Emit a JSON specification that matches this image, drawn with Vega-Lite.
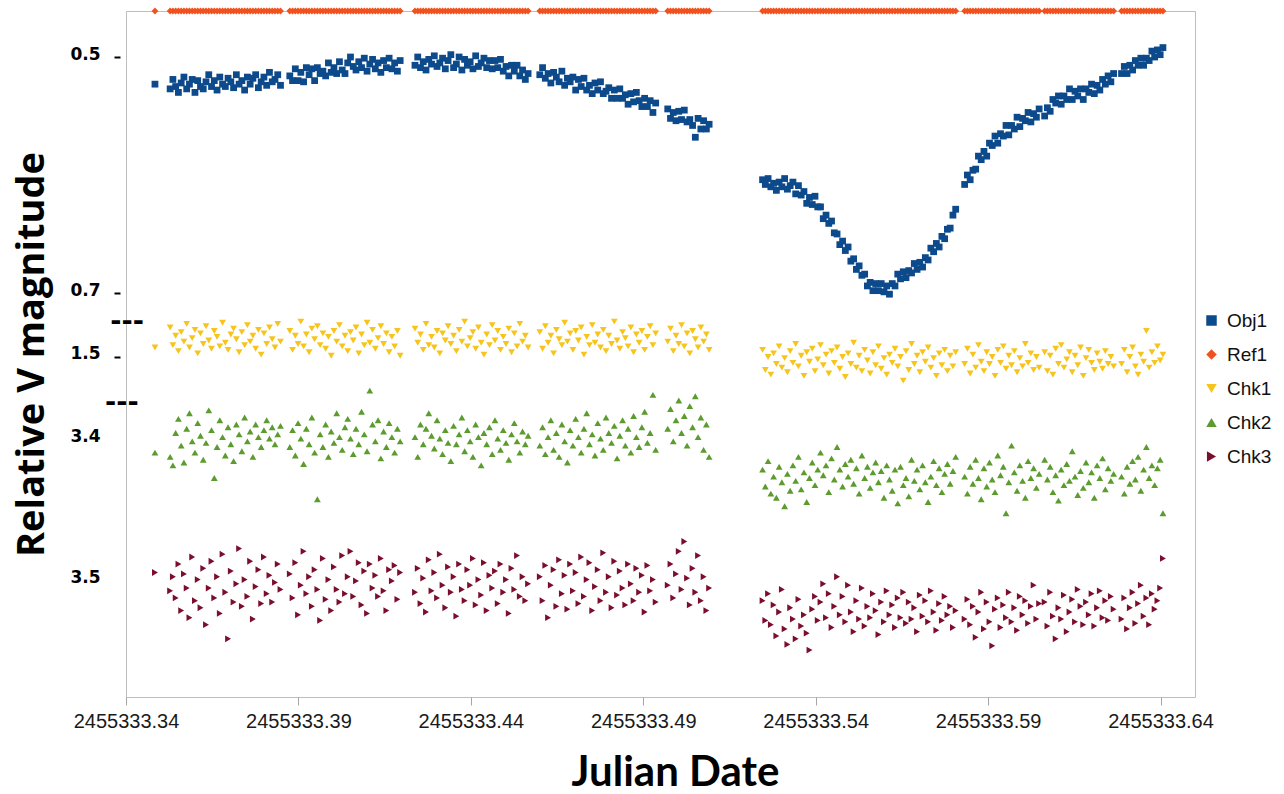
{
"$schema": "https://vega.github.io/schema/vega-lite/v6.json",
"width": 1069, "height": 686,
"autosize": "none",
"padding": {"left": 126, "top": 11, "right": 89, "bottom": 97},
"background": "white",
"config": {"view": {"stroke": "#bdbdbd", "strokeWidth": 1}},
"layer": [
{
"data": {"values": [
{"t":2455333.3484,"Obj1":0.523,"Ref1":0,"Chk1":1.492,"Chk2":3.409,"Chk3":3.494},
{"t":2455333.3528,"Obj1":0.527,"Ref1":0,"Chk1":1.475,"Chk2":3.412,"Chk3":3.507},
{"t":2455333.3536,"Obj1":0.519,"Ref1":0,"Chk1":1.490,"Chk2":3.418,"Chk3":3.497},
{"t":2455333.3544,"Obj1":0.525,"Ref1":0,"Chk1":1.482,"Chk2":3.395,"Chk3":3.512},
{"t":2455333.3552,"Obj1":0.530,"Ref1":0,"Chk1":1.495,"Chk2":3.385,"Chk3":3.488},
{"t":2455333.3560,"Obj1":0.522,"Ref1":0,"Chk1":1.479,"Chk2":3.404,"Chk3":3.521},
{"t":2455333.3568,"Obj1":0.517,"Ref1":0,"Chk1":1.487,"Chk2":3.416,"Chk3":3.495},
{"t":2455333.3576,"Obj1":0.527,"Ref1":0,"Chk1":1.472,"Chk2":3.392,"Chk3":3.505},
{"t":2455333.3584,"Obj1":0.523,"Ref1":0,"Chk1":1.492,"Chk2":3.381,"Chk3":3.526},
{"t":2455333.3592,"Obj1":0.519,"Ref1":0,"Chk1":1.484,"Chk2":3.401,"Chk3":3.483},
{"t":2455333.3600,"Obj1":0.530,"Ref1":0,"Chk1":1.477,"Chk2":3.409,"Chk3":3.514},
{"t":2455333.3608,"Obj1":0.520,"Ref1":0,"Chk1":1.497,"Chk2":3.388,"Chk3":3.499},
{"t":2455333.3616,"Obj1":0.525,"Ref1":0,"Chk1":1.480,"Chk2":3.397,"Chk3":3.519},
{"t":2455333.3624,"Obj1":0.527,"Ref1":0,"Chk1":1.489,"Chk2":3.414,"Chk3":3.491},
{"t":2455333.3632,"Obj1":0.521,"Ref1":0,"Chk1":1.474,"Chk2":3.402,"Chk3":3.531},
{"t":2455333.3640,"Obj1":0.515,"Ref1":0,"Chk1":1.486,"Chk2":3.379,"Chk3":3.505},
{"t":2455333.3648,"Obj1":0.525,"Ref1":0,"Chk1":1.493,"Chk2":3.393,"Chk3":3.486},
{"t":2455333.3656,"Obj1":0.520,"Ref1":0,"Chk1":1.478,"Chk2":3.427,"Chk3":3.512},
{"t":2455333.3664,"Obj1":0.528,"Ref1":0,"Chk1":1.483,"Chk2":3.405,"Chk3":3.497},
{"t":2455333.3672,"Obj1":0.517,"Ref1":0,"Chk1":1.491,"Chk2":3.386,"Chk3":3.523},
{"t":2455333.3680,"Obj1":0.523,"Ref1":0,"Chk1":1.471,"Chk2":3.398,"Chk3":3.481},
{"t":2455333.3688,"Obj1":0.525,"Ref1":0,"Chk1":1.488,"Chk2":3.411,"Chk3":3.508},
{"t":2455333.3696,"Obj1":0.518,"Ref1":0,"Chk1":1.494,"Chk2":3.391,"Chk3":3.541},
{"t":2455333.3704,"Obj1":0.521,"Ref1":0,"Chk1":1.481,"Chk2":3.403,"Chk3":3.493},
{"t":2455333.3712,"Obj1":0.526,"Ref1":0,"Chk1":1.476,"Chk2":3.415,"Chk3":3.515},
{"t":2455333.3720,"Obj1":0.515,"Ref1":0,"Chk1":1.485,"Chk2":3.389,"Chk3":3.502},
{"t":2455333.3728,"Obj1":0.523,"Ref1":0,"Chk1":1.496,"Chk2":3.396,"Chk3":3.477},
{"t":2455333.3736,"Obj1":0.520,"Ref1":0,"Chk1":1.479,"Chk2":3.408,"Chk3":3.518},
{"t":2455333.3744,"Obj1":0.528,"Ref1":0,"Chk1":1.490,"Chk2":3.384,"Chk3":3.499},
{"t":2455333.3752,"Obj1":0.517,"Ref1":0,"Chk1":1.473,"Chk2":3.401,"Chk3":3.511},
{"t":2455333.3760,"Obj1":0.523,"Ref1":0,"Chk1":1.487,"Chk2":3.394,"Chk3":3.486},
{"t":2455333.3768,"Obj1":0.518,"Ref1":0,"Chk1":1.482,"Chk2":3.412,"Chk3":3.527},
{"t":2455333.3776,"Obj1":0.515,"Ref1":0,"Chk1":1.493,"Chk2":3.389,"Chk3":3.504},
{"t":2455333.3784,"Obj1":0.526,"Ref1":0,"Chk1":1.477,"Chk2":3.398,"Chk3":3.492},
{"t":2455333.3792,"Obj1":0.521,"Ref1":0,"Chk1":1.498,"Chk2":3.405,"Chk3":3.516},
{"t":2455333.3800,"Obj1":0.517,"Ref1":0,"Chk1":1.480,"Chk2":3.393,"Chk3":3.483},
{"t":2455333.3808,"Obj1":0.524,"Ref1":0,"Chk1":1.489,"Chk2":3.386,"Chk3":3.509},
{"t":2455333.3816,"Obj1":0.513,"Ref1":0,"Chk1":1.475,"Chk2":3.399,"Chk3":3.496},
{"t":2455333.3824,"Obj1":0.521,"Ref1":0,"Chk1":1.485,"Chk2":3.391,"Chk3":3.515},
{"t":2455333.3832,"Obj1":0.519,"Ref1":0,"Chk1":1.492,"Chk2":3.403,"Chk3":3.501},
{"t":2455333.3840,"Obj1":0.515,"Ref1":0,"Chk1":1.472,"Chk2":3.396,"Chk3":3.488},
{"t":2455333.3848,"Obj1":0.524,"Ref1":0,"Chk1":1.487,"Chk2":3.390,"Chk3":3.506},
{"t":2455333.3875,"Obj1":0.516,"Ref1":0,"Chk1":1.478,"Chk2":3.405,"Chk3":3.495},
{"t":2455333.3883,"Obj1":0.520,"Ref1":0,"Chk1":1.494,"Chk2":3.393,"Chk3":3.512},
{"t":2455333.3891,"Obj1":0.510,"Ref1":0,"Chk1":1.482,"Chk2":3.411,"Chk3":3.487},
{"t":2455333.3899,"Obj1":0.520,"Ref1":0,"Chk1":1.489,"Chk2":3.388,"Chk3":3.524},
{"t":2455333.3907,"Obj1":0.513,"Ref1":0,"Chk1":1.470,"Chk2":3.399,"Chk3":3.503},
{"t":2455333.3915,"Obj1":0.521,"Ref1":0,"Chk1":1.491,"Chk2":3.417,"Chk3":3.479},
{"t":2455333.3923,"Obj1":0.509,"Ref1":0,"Chk1":1.481,"Chk2":3.392,"Chk3":3.509},
{"t":2455333.3931,"Obj1":0.515,"Ref1":0,"Chk1":1.496,"Chk2":3.403,"Chk3":3.497},
{"t":2455333.3939,"Obj1":0.510,"Ref1":0,"Chk1":1.476,"Chk2":3.384,"Chk3":3.518},
{"t":2455333.3947,"Obj1":0.520,"Ref1":0,"Chk1":1.485,"Chk2":3.409,"Chk3":3.492},
{"t":2455333.3955,"Obj1":0.509,"Ref1":0,"Chk1":1.474,"Chk2":3.442,"Chk3":3.506},
{"t":2455333.3963,"Obj1":0.514,"Ref1":0,"Chk1":1.490,"Chk2":3.396,"Chk3":3.528},
{"t":2455333.3971,"Obj1":0.512,"Ref1":0,"Chk1":1.480,"Chk2":3.405,"Chk3":3.484},
{"t":2455333.3979,"Obj1":0.516,"Ref1":0,"Chk1":1.493,"Chk2":3.389,"Chk3":3.513},
{"t":2455333.3987,"Obj1":0.505,"Ref1":0,"Chk1":1.483,"Chk2":3.412,"Chk3":3.499},
{"t":2455333.3995,"Obj1":0.513,"Ref1":0,"Chk1":1.499,"Chk2":3.394,"Chk3":3.521},
{"t":2455333.4003,"Obj1":0.509,"Ref1":0,"Chk1":1.478,"Chk2":3.402,"Chk3":3.490},
{"t":2455333.4011,"Obj1":0.514,"Ref1":0,"Chk1":1.487,"Chk2":3.381,"Chk3":3.506},
{"t":2455333.4019,"Obj1":0.504,"Ref1":0,"Chk1":1.473,"Chk2":3.398,"Chk3":3.515},
{"t":2455333.4027,"Obj1":0.511,"Ref1":0,"Chk1":1.491,"Chk2":3.407,"Chk3":3.482},
{"t":2455333.4035,"Obj1":0.514,"Ref1":0,"Chk1":1.482,"Chk2":3.391,"Chk3":3.509},
{"t":2455333.4043,"Obj1":0.505,"Ref1":0,"Chk1":1.495,"Chk2":3.385,"Chk3":3.497},
{"t":2455333.4051,"Obj1":0.500,"Ref1":0,"Chk1":1.479,"Chk2":3.399,"Chk3":3.479},
{"t":2455333.4059,"Obj1":0.508,"Ref1":0,"Chk1":1.486,"Chk2":3.410,"Chk3":3.511},
{"t":2455333.4067,"Obj1":0.511,"Ref1":0,"Chk1":1.475,"Chk2":3.392,"Chk3":3.500},
{"t":2455333.4075,"Obj1":0.504,"Ref1":0,"Chk1":1.497,"Chk2":3.403,"Chk3":3.487},
{"t":2455333.4083,"Obj1":0.509,"Ref1":0,"Chk1":1.481,"Chk2":3.380,"Chk3":3.517},
{"t":2455333.4091,"Obj1":0.501,"Ref1":0,"Chk1":1.490,"Chk2":3.396,"Chk3":3.493},
{"t":2455333.4099,"Obj1":0.512,"Ref1":0,"Chk1":1.471,"Chk2":3.408,"Chk3":3.523},
{"t":2455333.4107,"Obj1":0.506,"Ref1":0,"Chk1":1.488,"Chk2":3.365,"Chk3":3.488},
{"t":2455333.4115,"Obj1":0.502,"Ref1":0,"Chk1":1.477,"Chk2":3.389,"Chk3":3.505},
{"t":2455333.4123,"Obj1":0.510,"Ref1":0,"Chk1":1.493,"Chk2":3.401,"Chk3":3.496},
{"t":2455333.4131,"Obj1":0.505,"Ref1":0,"Chk1":1.484,"Chk2":3.386,"Chk3":3.511},
{"t":2455333.4139,"Obj1":0.513,"Ref1":0,"Chk1":1.474,"Chk2":3.413,"Chk3":3.484},
{"t":2455333.4147,"Obj1":0.503,"Ref1":0,"Chk1":1.489,"Chk2":3.394,"Chk3":3.507},
{"t":2455333.4155,"Obj1":0.509,"Ref1":0,"Chk1":1.480,"Chk2":3.405,"Chk3":3.521},
{"t":2455333.4163,"Obj1":0.501,"Ref1":0,"Chk1":1.496,"Chk2":3.388,"Chk3":3.492},
{"t":2455333.4171,"Obj1":0.510,"Ref1":0,"Chk1":1.483,"Chk2":3.398,"Chk3":3.500},
{"t":2455333.4179,"Obj1":0.505,"Ref1":0,"Chk1":1.491,"Chk2":3.409,"Chk3":3.489},
{"t":2455333.4187,"Obj1":0.512,"Ref1":0,"Chk1":1.478,"Chk2":3.392,"Chk3":3.513},
{"t":2455333.4195,"Obj1":0.503,"Ref1":0,"Chk1":1.499,"Chk2":3.401,"Chk3":3.494},
{"t":2455333.4238,"Obj1":0.507,"Ref1":0,"Chk1":1.476,"Chk2":3.398,"Chk3":3.508},
{"t":2455333.4246,"Obj1":0.500,"Ref1":0,"Chk1":1.488,"Chk2":3.412,"Chk3":3.491},
{"t":2455333.4254,"Obj1":0.509,"Ref1":0,"Chk1":1.481,"Chk2":3.389,"Chk3":3.516},
{"t":2455333.4262,"Obj1":0.504,"Ref1":0,"Chk1":1.494,"Chk2":3.403,"Chk3":3.498},
{"t":2455333.4270,"Obj1":0.511,"Ref1":0,"Chk1":1.472,"Chk2":3.392,"Chk3":3.522},
{"t":2455333.4278,"Obj1":0.502,"Ref1":0,"Chk1":1.490,"Chk2":3.381,"Chk3":3.485},
{"t":2455333.4286,"Obj1":0.506,"Ref1":0,"Chk1":1.483,"Chk2":3.397,"Chk3":3.507},
{"t":2455333.4294,"Obj1":0.499,"Ref1":0,"Chk1":1.492,"Chk2":3.406,"Chk3":3.494},
{"t":2455333.4302,"Obj1":0.508,"Ref1":0,"Chk1":1.478,"Chk2":3.386,"Chk3":3.512},
{"t":2455333.4310,"Obj1":0.505,"Ref1":0,"Chk1":1.497,"Chk2":3.399,"Chk3":3.481},
{"t":2455333.4318,"Obj1":0.501,"Ref1":0,"Chk1":1.480,"Chk2":3.410,"Chk3":3.503},
{"t":2455333.4326,"Obj1":0.510,"Ref1":0,"Chk1":1.486,"Chk2":3.393,"Chk3":3.519},
{"t":2455333.4334,"Obj1":0.503,"Ref1":0,"Chk1":1.474,"Chk2":3.402,"Chk3":3.490},
{"t":2455333.4342,"Obj1":0.498,"Ref1":0,"Chk1":1.489,"Chk2":3.415,"Chk3":3.508},
{"t":2455333.4350,"Obj1":0.509,"Ref1":0,"Chk1":1.482,"Chk2":3.390,"Chk3":3.497},
{"t":2455333.4358,"Obj1":0.506,"Ref1":0,"Chk1":1.495,"Chk2":3.403,"Chk3":3.525},
{"t":2455333.4366,"Obj1":0.500,"Ref1":0,"Chk1":1.477,"Chk2":3.396,"Chk3":3.488},
{"t":2455333.4374,"Obj1":0.511,"Ref1":0,"Chk1":1.487,"Chk2":3.384,"Chk3":3.506},
{"t":2455333.4382,"Obj1":0.502,"Ref1":0,"Chk1":1.470,"Chk2":3.408,"Chk3":3.514},
{"t":2455333.4390,"Obj1":0.507,"Ref1":0,"Chk1":1.491,"Chk2":3.393,"Chk3":3.492},
{"t":2455333.4398,"Obj1":0.504,"Ref1":0,"Chk1":1.484,"Chk2":3.401,"Chk3":3.503},
{"t":2455333.4406,"Obj1":0.510,"Ref1":0,"Chk1":1.479,"Chk2":3.412,"Chk3":3.484},
{"t":2455333.4414,"Obj1":0.499,"Ref1":0,"Chk1":1.493,"Chk2":3.389,"Chk3":3.517},
{"t":2455333.4422,"Obj1":0.508,"Ref1":0,"Chk1":1.475,"Chk2":3.398,"Chk3":3.499},
{"t":2455333.4430,"Obj1":0.505,"Ref1":0,"Chk1":1.488,"Chk2":3.418,"Chk3":3.510},
{"t":2455333.4438,"Obj1":0.501,"Ref1":0,"Chk1":1.498,"Chk2":3.395,"Chk3":3.487},
{"t":2455333.4446,"Obj1":0.509,"Ref1":0,"Chk1":1.481,"Chk2":3.403,"Chk3":3.521},
{"t":2455333.4454,"Obj1":0.503,"Ref1":0,"Chk1":1.490,"Chk2":3.391,"Chk3":3.496},
{"t":2455333.4462,"Obj1":0.510,"Ref1":0,"Chk1":1.473,"Chk2":3.410,"Chk3":3.505},
{"t":2455333.4470,"Obj1":0.503,"Ref1":0,"Chk1":1.486,"Chk2":3.386,"Chk3":3.493},
{"t":2455333.4478,"Obj1":0.509,"Ref1":0,"Chk1":1.478,"Chk2":3.399,"Chk3":3.516},
{"t":2455333.4486,"Obj1":0.502,"Ref1":0,"Chk1":1.494,"Chk2":3.407,"Chk3":3.488},
{"t":2455333.4494,"Obj1":0.512,"Ref1":0,"Chk1":1.483,"Chk2":3.393,"Chk3":3.508},
{"t":2455333.4502,"Obj1":0.508,"Ref1":0,"Chk1":1.489,"Chk2":3.402,"Chk3":3.499},
{"t":2455333.4510,"Obj1":0.516,"Ref1":0,"Chk1":1.476,"Chk2":3.414,"Chk3":3.523},
{"t":2455333.4518,"Obj1":0.507,"Ref1":0,"Chk1":1.496,"Chk2":3.396,"Chk3":3.491},
{"t":2455333.4526,"Obj1":0.512,"Ref1":0,"Chk1":1.480,"Chk2":3.388,"Chk3":3.506},
{"t":2455333.4534,"Obj1":0.507,"Ref1":0,"Chk1":1.491,"Chk2":3.401,"Chk3":3.482},
{"t":2455333.4542,"Obj1":0.516,"Ref1":0,"Chk1":1.472,"Chk2":3.409,"Chk3":3.511},
{"t":2455333.4550,"Obj1":0.511,"Ref1":0,"Chk1":1.487,"Chk2":3.394,"Chk3":3.497},
{"t":2455333.4558,"Obj1":0.519,"Ref1":0,"Chk1":1.482,"Chk2":3.403,"Chk3":3.514},
{"t":2455333.4566,"Obj1":0.514,"Ref1":0,"Chk1":1.492,"Chk2":3.397,"Chk3":3.502},
{"t":2455333.4600,"Obj1":0.515,"Ref1":0,"Chk1":1.479,"Chk2":3.404,"Chk3":3.497},
{"t":2455333.4608,"Obj1":0.509,"Ref1":0,"Chk1":1.493,"Chk2":3.391,"Chk3":3.514},
{"t":2455333.4616,"Obj1":0.518,"Ref1":0,"Chk1":1.474,"Chk2":3.410,"Chk3":3.489},
{"t":2455333.4624,"Obj1":0.514,"Ref1":0,"Chk1":1.488,"Chk2":3.398,"Chk3":3.526},
{"t":2455333.4632,"Obj1":0.522,"Ref1":0,"Chk1":1.482,"Chk2":3.386,"Chk3":3.503},
{"t":2455333.4640,"Obj1":0.513,"Ref1":0,"Chk1":1.497,"Chk2":3.407,"Chk3":3.492},
{"t":2455333.4648,"Obj1":0.517,"Ref1":0,"Chk1":1.477,"Chk2":3.395,"Chk3":3.518},
{"t":2455333.4656,"Obj1":0.521,"Ref1":0,"Chk1":1.485,"Chk2":3.412,"Chk3":3.485},
{"t":2455333.4664,"Obj1":0.512,"Ref1":0,"Chk1":1.490,"Chk2":3.389,"Chk3":3.509},
{"t":2455333.4672,"Obj1":0.524,"Ref1":0,"Chk1":1.471,"Chk2":3.401,"Chk3":3.496},
{"t":2455333.4680,"Obj1":0.518,"Ref1":0,"Chk1":1.487,"Chk2":3.416,"Chk3":3.520},
{"t":2455333.4688,"Obj1":0.521,"Ref1":0,"Chk1":1.480,"Chk2":3.393,"Chk3":3.488},
{"t":2455333.4696,"Obj1":0.517,"Ref1":0,"Chk1":1.494,"Chk2":3.404,"Chk3":3.507},
{"t":2455333.4704,"Obj1":0.528,"Ref1":0,"Chk1":1.478,"Chk2":3.385,"Chk3":3.494},
{"t":2455333.4712,"Obj1":0.519,"Ref1":0,"Chk1":1.486,"Chk2":3.398,"Chk3":3.516},
{"t":2455333.4720,"Obj1":0.525,"Ref1":0,"Chk1":1.475,"Chk2":3.409,"Chk3":3.483},
{"t":2455333.4728,"Obj1":0.518,"Ref1":0,"Chk1":1.498,"Chk2":3.392,"Chk3":3.511},
{"t":2455333.4736,"Obj1":0.528,"Ref1":0,"Chk1":1.483,"Chk2":3.381,"Chk3":3.499},
{"t":2455333.4744,"Obj1":0.524,"Ref1":0,"Chk1":1.490,"Chk2":3.403,"Chk3":3.487},
{"t":2455333.4752,"Obj1":0.531,"Ref1":0,"Chk1":1.473,"Chk2":3.396,"Chk3":3.521},
{"t":2455333.4760,"Obj1":0.522,"Ref1":0,"Chk1":1.488,"Chk2":3.411,"Chk3":3.504},
{"t":2455333.4768,"Obj1":0.528,"Ref1":0,"Chk1":1.481,"Chk2":3.388,"Chk3":3.492},
{"t":2455333.4776,"Obj1":0.521,"Ref1":0,"Chk1":1.492,"Chk2":3.399,"Chk3":3.514},
{"t":2455333.4784,"Obj1":0.531,"Ref1":0,"Chk1":1.477,"Chk2":3.407,"Chk3":3.480},
{"t":2455333.4792,"Obj1":0.529,"Ref1":0,"Chk1":1.495,"Chk2":3.384,"Chk3":3.508},
{"t":2455333.4800,"Obj1":0.526,"Ref1":0,"Chk1":1.482,"Chk2":3.395,"Chk3":3.497},
{"t":2455333.4808,"Obj1":0.535,"Ref1":0,"Chk1":1.489,"Chk2":3.402,"Chk3":3.519},
{"t":2455333.4816,"Obj1":0.528,"Ref1":0,"Chk1":1.470,"Chk2":3.390,"Chk3":3.486},
{"t":2455333.4824,"Obj1":0.535,"Ref1":0,"Chk1":1.486,"Chk2":3.413,"Chk3":3.510},
{"t":2455333.4832,"Obj1":0.527,"Ref1":0,"Chk1":1.493,"Chk2":3.397,"Chk3":3.493},
{"t":2455333.4840,"Obj1":0.535,"Ref1":0,"Chk1":1.479,"Chk2":3.386,"Chk3":3.505},
{"t":2455333.4848,"Obj1":0.532,"Ref1":0,"Chk1":1.484,"Chk2":3.404,"Chk3":3.517},
{"t":2455333.4856,"Obj1":0.540,"Ref1":0,"Chk1":1.491,"Chk2":3.392,"Chk3":3.488},
{"t":2455333.4864,"Obj1":0.531,"Ref1":0,"Chk1":1.475,"Chk2":3.409,"Chk3":3.502},
{"t":2455333.4872,"Obj1":0.538,"Ref1":0,"Chk1":1.496,"Chk2":3.383,"Chk3":3.514},
{"t":2455333.4880,"Obj1":0.530,"Ref1":0,"Chk1":1.481,"Chk2":3.398,"Chk3":3.491},
{"t":2455333.4888,"Obj1":0.537,"Ref1":0,"Chk1":1.488,"Chk2":3.405,"Chk3":3.508},
{"t":2455333.4896,"Obj1":0.542,"Ref1":0,"Chk1":1.478,"Chk2":3.391,"Chk3":3.496},
{"t":2455333.4904,"Obj1":0.535,"Ref1":0,"Chk1":1.494,"Chk2":3.380,"Chk3":3.522},
{"t":2455333.4912,"Obj1":0.542,"Ref1":0,"Chk1":1.483,"Chk2":3.402,"Chk3":3.489},
{"t":2455333.4920,"Obj1":0.537,"Ref1":0,"Chk1":1.474,"Chk2":3.395,"Chk3":3.507},
{"t":2455333.4928,"Obj1":0.547,"Ref1":0,"Chk1":1.490,"Chk2":3.368,"Chk3":3.499},
{"t":2455333.4936,"Obj1":0.539,"Ref1":0,"Chk1":1.480,"Chk2":3.407,"Chk3":3.515},
{"t":2455333.4971,"Obj1":0.544,"Ref1":0,"Chk1":1.487,"Chk2":3.392,"Chk3":3.503},
{"t":2455333.4979,"Obj1":0.552,"Ref1":0,"Chk1":1.476,"Chk2":3.378,"Chk3":3.488},
{"t":2455333.4987,"Obj1":0.547,"Ref1":0,"Chk1":1.495,"Chk2":3.401,"Chk3":3.512},
{"t":2455333.4995,"Obj1":0.554,"Ref1":0,"Chk1":1.482,"Chk2":3.386,"Chk3":3.495},
{"t":2455333.5003,"Obj1":0.546,"Ref1":0,"Chk1":1.489,"Chk2":3.372,"Chk3":3.479},
{"t":2455333.5011,"Obj1":0.553,"Ref1":0,"Chk1":1.473,"Chk2":3.395,"Chk3":3.506},
{"t":2455333.5019,"Obj1":0.545,"Ref1":0,"Chk1":1.491,"Chk2":3.383,"Chk3":3.472},
{"t":2455333.5027,"Obj1":0.555,"Ref1":0,"Chk1":1.480,"Chk2":3.404,"Chk3":3.498},
{"t":2455333.5035,"Obj1":0.553,"Ref1":0,"Chk1":1.497,"Chk2":3.376,"Chk3":3.517},
{"t":2455333.5043,"Obj1":0.558,"Ref1":0,"Chk1":1.478,"Chk2":3.391,"Chk3":3.491},
{"t":2455333.5051,"Obj1":0.568,"Ref1":0,"Chk1":1.485,"Chk2":3.369,"Chk3":3.508},
{"t":2455333.5059,"Obj1":0.552,"Ref1":0,"Chk1":1.492,"Chk2":3.398,"Chk3":3.482},
{"t":2455333.5067,"Obj1":0.561,"Ref1":0,"Chk1":1.475,"Chk2":3.384,"Chk3":3.514},
{"t":2455333.5075,"Obj1":0.554,"Ref1":0,"Chk1":1.487,"Chk2":3.407,"Chk3":3.497},
{"t":2455333.5083,"Obj1":0.561,"Ref1":0,"Chk1":1.481,"Chk2":3.389,"Chk3":3.521},
{"t":2455333.5091,"Obj1":0.557,"Ref1":0,"Chk1":1.494,"Chk2":3.412,"Chk3":3.505},
{"t":2455333.5246,"Obj1":0.604,"Ref1":0,"Chk1":1.494,"Chk2":3.421,"Chk3":3.514},
{"t":2455333.5254,"Obj1":0.608,"Ref1":0,"Chk1":1.511,"Chk2":3.433,"Chk3":3.528},
{"t":2455333.5262,"Obj1":0.603,"Ref1":0,"Chk1":1.500,"Chk2":3.415,"Chk3":3.509},
{"t":2455333.5270,"Obj1":0.610,"Ref1":0,"Chk1":1.515,"Chk2":3.438,"Chk3":3.531},
{"t":2455333.5278,"Obj1":0.607,"Ref1":0,"Chk1":1.497,"Chk2":3.426,"Chk3":3.517},
{"t":2455333.5286,"Obj1":0.613,"Ref1":0,"Chk1":1.506,"Chk2":3.441,"Chk3":3.539},
{"t":2455333.5294,"Obj1":0.606,"Ref1":0,"Chk1":1.491,"Chk2":3.419,"Chk3":3.522},
{"t":2455333.5302,"Obj1":0.610,"Ref1":0,"Chk1":1.509,"Chk2":3.430,"Chk3":3.506},
{"t":2455333.5310,"Obj1":0.603,"Ref1":0,"Chk1":1.501,"Chk2":3.447,"Chk3":3.534},
{"t":2455333.5318,"Obj1":0.612,"Ref1":0,"Chk1":1.513,"Chk2":3.424,"Chk3":3.545},
{"t":2455333.5326,"Obj1":0.609,"Ref1":0,"Chk1":1.495,"Chk2":3.436,"Chk3":3.519},
{"t":2455333.5334,"Obj1":0.606,"Ref1":0,"Chk1":1.505,"Chk2":3.418,"Chk3":3.527},
{"t":2455333.5342,"Obj1":0.616,"Ref1":0,"Chk1":1.489,"Chk2":3.429,"Chk3":3.541},
{"t":2455333.5350,"Obj1":0.609,"Ref1":0,"Chk1":1.508,"Chk2":3.412,"Chk3":3.513},
{"t":2455333.5358,"Obj1":0.617,"Ref1":0,"Chk1":1.499,"Chk2":3.435,"Chk3":3.532},
{"t":2455333.5366,"Obj1":0.614,"Ref1":0,"Chk1":1.516,"Chk2":3.423,"Chk3":3.524},
{"t":2455333.5374,"Obj1":0.624,"Ref1":0,"Chk1":1.496,"Chk2":3.444,"Chk3":3.537},
{"t":2455333.5382,"Obj1":0.619,"Ref1":0,"Chk1":1.504,"Chk2":3.427,"Chk3":3.549},
{"t":2455333.5390,"Obj1":0.625,"Ref1":0,"Chk1":1.493,"Chk2":3.416,"Chk3":3.520},
{"t":2455333.5398,"Obj1":0.618,"Ref1":0,"Chk1":1.512,"Chk2":3.432,"Chk3":3.511},
{"t":2455333.5406,"Obj1":0.627,"Ref1":0,"Chk1":1.502,"Chk2":3.421,"Chk3":3.528},
{"t":2455333.5414,"Obj1":0.627,"Ref1":0,"Chk1":1.490,"Chk2":3.409,"Chk3":3.515},
{"t":2455333.5422,"Obj1":0.637,"Ref1":0,"Chk1":1.507,"Chk2":3.425,"Chk3":3.502},
{"t":2455333.5430,"Obj1":0.634,"Ref1":0,"Chk1":1.498,"Chk2":3.418,"Chk3":3.526},
{"t":2455333.5438,"Obj1":0.641,"Ref1":0,"Chk1":1.514,"Chk2":3.437,"Chk3":3.509},
{"t":2455333.5446,"Obj1":0.639,"Ref1":0,"Chk1":1.495,"Chk2":3.413,"Chk3":3.533},
{"t":2455333.5454,"Obj1":0.649,"Ref1":0,"Chk1":1.505,"Chk2":3.428,"Chk3":3.518},
{"t":2455333.5462,"Obj1":0.650,"Ref1":0,"Chk1":1.492,"Chk2":3.405,"Chk3":3.497},
{"t":2455333.5470,"Obj1":0.659,"Ref1":0,"Chk1":1.510,"Chk2":3.421,"Chk3":3.524},
{"t":2455333.5478,"Obj1":0.656,"Ref1":0,"Chk1":1.500,"Chk2":3.433,"Chk3":3.511},
{"t":2455333.5486,"Obj1":0.664,"Ref1":0,"Chk1":1.517,"Chk2":3.417,"Chk3":3.529},
{"t":2455333.5494,"Obj1":0.661,"Ref1":0,"Chk1":1.497,"Chk2":3.426,"Chk3":3.503},
{"t":2455333.5502,"Obj1":0.673,"Ref1":0,"Chk1":1.506,"Chk2":3.414,"Chk3":3.522},
{"t":2455333.5510,"Obj1":0.671,"Ref1":0,"Chk1":1.488,"Chk2":3.431,"Chk3":3.536},
{"t":2455333.5518,"Obj1":0.680,"Ref1":0,"Chk1":1.509,"Chk2":3.420,"Chk3":3.514},
{"t":2455333.5526,"Obj1":0.677,"Ref1":0,"Chk1":1.499,"Chk2":3.438,"Chk3":3.527},
{"t":2455333.5534,"Obj1":0.685,"Ref1":0,"Chk1":1.512,"Chk2":3.411,"Chk3":3.505},
{"t":2455333.5542,"Obj1":0.684,"Ref1":0,"Chk1":1.494,"Chk2":3.427,"Chk3":3.532},
{"t":2455333.5550,"Obj1":0.694,"Ref1":0,"Chk1":1.503,"Chk2":3.419,"Chk3":3.518},
{"t":2455333.5558,"Obj1":0.691,"Ref1":0,"Chk1":1.514,"Chk2":3.434,"Chk3":3.526},
{"t":2455333.5566,"Obj1":0.698,"Ref1":0,"Chk1":1.496,"Chk2":3.423,"Chk3":3.509},
{"t":2455333.5574,"Obj1":0.692,"Ref1":0,"Chk1":1.507,"Chk2":3.416,"Chk3":3.521},
{"t":2455333.5582,"Obj1":0.698,"Ref1":0,"Chk1":1.491,"Chk2":3.430,"Chk3":3.538},
{"t":2455333.5590,"Obj1":0.692,"Ref1":0,"Chk1":1.510,"Chk2":3.422,"Chk3":3.515},
{"t":2455333.5598,"Obj1":0.699,"Ref1":0,"Chk1":1.501,"Chk2":3.441,"Chk3":3.529},
{"t":2455333.5606,"Obj1":0.694,"Ref1":0,"Chk1":1.515,"Chk2":3.418,"Chk3":3.507},
{"t":2455333.5614,"Obj1":0.701,"Ref1":0,"Chk1":1.498,"Chk2":3.428,"Chk3":3.524},
{"t":2455333.5622,"Obj1":0.692,"Ref1":0,"Chk1":1.505,"Chk2":3.436,"Chk3":3.517},
{"t":2455333.5630,"Obj1":0.694,"Ref1":0,"Chk1":1.493,"Chk2":3.421,"Chk3":3.533},
{"t":2455333.5638,"Obj1":0.684,"Ref1":0,"Chk1":1.508,"Chk2":3.445,"Chk3":3.512},
{"t":2455333.5646,"Obj1":0.688,"Ref1":0,"Chk1":1.500,"Chk2":3.419,"Chk3":3.526},
{"t":2455333.5654,"Obj1":0.682,"Ref1":0,"Chk1":1.520,"Chk2":3.432,"Chk3":3.508},
{"t":2455333.5662,"Obj1":0.687,"Ref1":0,"Chk1":1.495,"Chk2":3.427,"Chk3":3.530},
{"t":2455333.5670,"Obj1":0.681,"Ref1":0,"Chk1":1.511,"Chk2":3.440,"Chk3":3.515},
{"t":2455333.5678,"Obj1":0.683,"Ref1":0,"Chk1":1.489,"Chk2":3.414,"Chk3":3.527},
{"t":2455333.5686,"Obj1":0.675,"Ref1":0,"Chk1":1.506,"Chk2":3.429,"Chk3":3.519},
{"t":2455333.5694,"Obj1":0.680,"Ref1":0,"Chk1":1.499,"Chk2":3.421,"Chk3":3.536},
{"t":2455333.5702,"Obj1":0.674,"Ref1":0,"Chk1":1.513,"Chk2":3.435,"Chk3":3.510},
{"t":2455333.5710,"Obj1":0.678,"Ref1":0,"Chk1":1.496,"Chk2":3.418,"Chk3":3.525},
{"t":2455333.5718,"Obj1":0.670,"Ref1":0,"Chk1":1.504,"Chk2":3.430,"Chk3":3.514},
{"t":2455333.5726,"Obj1":0.672,"Ref1":0,"Chk1":1.492,"Chk2":3.444,"Chk3":3.529},
{"t":2455333.5734,"Obj1":0.662,"Ref1":0,"Chk1":1.509,"Chk2":3.426,"Chk3":3.507},
{"t":2455333.5742,"Obj1":0.665,"Ref1":0,"Chk1":1.501,"Chk2":3.415,"Chk3":3.522},
{"t":2455333.5750,"Obj1":0.658,"Ref1":0,"Chk1":1.516,"Chk2":3.432,"Chk3":3.535},
{"t":2455333.5758,"Obj1":0.661,"Ref1":0,"Chk1":1.497,"Chk2":3.420,"Chk3":3.516},
{"t":2455333.5766,"Obj1":0.652,"Ref1":0,"Chk1":1.507,"Chk2":3.437,"Chk3":3.528},
{"t":2455333.5774,"Obj1":0.654,"Ref1":0,"Chk1":1.494,"Chk2":3.424,"Chk3":3.511},
{"t":2455333.5782,"Obj1":0.646,"Ref1":0,"Chk1":1.512,"Chk2":3.417,"Chk3":3.524},
{"t":2455333.5790,"Obj1":0.645,"Ref1":0,"Chk1":1.499,"Chk2":3.431,"Chk3":3.518},
{"t":2455333.5798,"Obj1":0.634,"Ref1":0,"Chk1":1.508,"Chk2":3.422,"Chk3":3.533},
{"t":2455333.5806,"Obj1":0.629,"Ref1":0,"Chk1":1.496,"Chk2":3.412,"Chk3":3.521},
{"t":2455333.5832,"Obj1":0.608,"Ref1":0,"Chk1":1.506,"Chk2":3.426,"Chk3":3.527},
{"t":2455333.5840,"Obj1":0.600,"Ref1":0,"Chk1":1.493,"Chk2":3.438,"Chk3":3.513},
{"t":2455333.5848,"Obj1":0.604,"Ref1":0,"Chk1":1.514,"Chk2":3.419,"Chk3":3.531},
{"t":2455333.5856,"Obj1":0.596,"Ref1":0,"Chk1":1.498,"Chk2":3.431,"Chk3":3.518},
{"t":2455333.5864,"Obj1":0.595,"Ref1":0,"Chk1":1.509,"Chk2":3.414,"Chk3":3.540},
{"t":2455333.5872,"Obj1":0.584,"Ref1":0,"Chk1":1.490,"Chk2":3.427,"Chk3":3.522},
{"t":2455333.5880,"Obj1":0.587,"Ref1":0,"Chk1":1.504,"Chk2":3.442,"Chk3":3.508},
{"t":2455333.5888,"Obj1":0.580,"Ref1":0,"Chk1":1.512,"Chk2":3.420,"Chk3":3.534},
{"t":2455333.5896,"Obj1":0.584,"Ref1":0,"Chk1":1.496,"Chk2":3.433,"Chk3":3.515},
{"t":2455333.5904,"Obj1":0.573,"Ref1":0,"Chk1":1.506,"Chk2":3.416,"Chk3":3.529},
{"t":2455333.5912,"Obj1":0.575,"Ref1":0,"Chk1":1.500,"Chk2":3.428,"Chk3":3.546},
{"t":2455333.5920,"Obj1":0.567,"Ref1":0,"Chk1":1.516,"Chk2":3.437,"Chk3":3.520},
{"t":2455333.5928,"Obj1":0.573,"Ref1":0,"Chk1":1.494,"Chk2":3.411,"Chk3":3.512},
{"t":2455333.5936,"Obj1":0.565,"Ref1":0,"Chk1":1.505,"Chk2":3.425,"Chk3":3.533},
{"t":2455333.5944,"Obj1":0.567,"Ref1":0,"Chk1":1.491,"Chk2":3.419,"Chk3":3.517},
{"t":2455333.5952,"Obj1":0.558,"Ref1":0,"Chk1":1.510,"Chk2":3.452,"Chk3":3.526},
{"t":2455333.5960,"Obj1":0.566,"Ref1":0,"Chk1":1.499,"Chk2":3.430,"Chk3":3.508},
{"t":2455333.5968,"Obj1":0.558,"Ref1":0,"Chk1":1.507,"Chk2":3.404,"Chk3":3.529},
{"t":2455333.5976,"Obj1":0.561,"Ref1":0,"Chk1":1.495,"Chk2":3.423,"Chk3":3.519},
{"t":2455333.5984,"Obj1":0.551,"Ref1":0,"Chk1":1.513,"Chk2":3.436,"Chk3":3.535},
{"t":2455333.5992,"Obj1":0.559,"Ref1":0,"Chk1":1.501,"Chk2":3.418,"Chk3":3.511},
{"t":2455333.6000,"Obj1":0.552,"Ref1":0,"Chk1":1.508,"Chk2":3.429,"Chk3":3.524},
{"t":2455333.6008,"Obj1":0.554,"Ref1":0,"Chk1":1.489,"Chk2":3.441,"Chk3":3.514},
{"t":2455333.6016,"Obj1":0.547,"Ref1":0,"Chk1":1.505,"Chk2":3.415,"Chk3":3.530},
{"t":2455333.6024,"Obj1":0.555,"Ref1":0,"Chk1":1.497,"Chk2":3.427,"Chk3":3.518},
{"t":2455333.6032,"Obj1":0.548,"Ref1":0,"Chk1":1.511,"Chk2":3.420,"Chk3":3.503},
{"t":2455333.6040,"Obj1":0.551,"Ref1":0,"Chk1":1.500,"Chk2":3.434,"Chk3":3.527},
{"t":2455333.6048,"Obj1":0.544,"Ref1":0,"Chk1":1.509,"Chk2":3.424,"Chk3":3.516},
{"t":2455333.6064,"Obj1":0.550,"Ref1":0,"Chk1":1.496,"Chk2":3.414,"Chk3":3.515},
{"t":2455333.6072,"Obj1":0.543,"Ref1":0,"Chk1":1.512,"Chk2":3.428,"Chk3":3.532},
{"t":2455333.6080,"Obj1":0.546,"Ref1":0,"Chk1":1.499,"Chk2":3.419,"Chk3":3.508},
{"t":2455333.6088,"Obj1":0.536,"Ref1":0,"Chk1":1.515,"Chk2":3.437,"Chk3":3.525},
{"t":2455333.6096,"Obj1":0.539,"Ref1":0,"Chk1":1.493,"Chk2":3.425,"Chk3":3.541},
{"t":2455333.6104,"Obj1":0.533,"Ref1":0,"Chk1":1.506,"Chk2":3.443,"Chk3":3.519},
{"t":2455333.6112,"Obj1":0.540,"Ref1":0,"Chk1":1.490,"Chk2":3.421,"Chk3":3.527},
{"t":2455333.6120,"Obj1":0.533,"Ref1":0,"Chk1":1.509,"Chk2":3.432,"Chk3":3.510},
{"t":2455333.6128,"Obj1":0.536,"Ref1":0,"Chk1":1.502,"Chk2":3.417,"Chk3":3.536},
{"t":2455333.6136,"Obj1":0.527,"Ref1":0,"Chk1":1.496,"Chk2":3.429,"Chk3":3.522},
{"t":2455333.6144,"Obj1":0.536,"Ref1":0,"Chk1":1.513,"Chk2":3.408,"Chk3":3.513},
{"t":2455333.6152,"Obj1":0.529,"Ref1":0,"Chk1":1.499,"Chk2":3.426,"Chk3":3.529},
{"t":2455333.6160,"Obj1":0.533,"Ref1":0,"Chk1":1.507,"Chk2":3.439,"Chk3":3.506},
{"t":2455333.6168,"Obj1":0.527,"Ref1":0,"Chk1":1.492,"Chk2":3.422,"Chk3":3.518},
{"t":2455333.6176,"Obj1":0.536,"Ref1":0,"Chk1":1.516,"Chk2":3.434,"Chk3":3.531},
{"t":2455333.6184,"Obj1":0.527,"Ref1":0,"Chk1":1.501,"Chk2":3.416,"Chk3":3.515},
{"t":2455333.6192,"Obj1":0.530,"Ref1":0,"Chk1":1.494,"Chk2":3.430,"Chk3":3.524},
{"t":2455333.6200,"Obj1":0.523,"Ref1":0,"Chk1":1.505,"Chk2":3.423,"Chk3":3.509},
{"t":2455333.6208,"Obj1":0.531,"Ref1":0,"Chk1":1.511,"Chk2":3.441,"Chk3":3.532},
{"t":2455333.6216,"Obj1":0.524,"Ref1":0,"Chk1":1.497,"Chk2":3.418,"Chk3":3.519},
{"t":2455333.6224,"Obj1":0.528,"Ref1":0,"Chk1":1.504,"Chk2":3.427,"Chk3":3.507},
{"t":2455333.6232,"Obj1":0.519,"Ref1":0,"Chk1":1.510,"Chk2":3.413,"Chk3":3.526},
{"t":2455333.6240,"Obj1":0.523,"Ref1":0,"Chk1":1.495,"Chk2":3.435,"Chk3":3.514},
{"t":2455333.6248,"Obj1":0.516,"Ref1":0,"Chk1":1.506,"Chk2":3.420,"Chk3":3.528},
{"t":2455333.6256,"Obj1":0.521,"Ref1":0,"Chk1":1.500,"Chk2":3.429,"Chk3":3.511},
{"t":2455333.6264,"Obj1":0.514,"Ref1":0,"Chk1":1.508,"Chk2":3.424,"Chk3":3.520},
{"t":2455333.6287,"Obj1":0.514,"Ref1":0,"Chk1":1.506,"Chk2":3.426,"Chk3":3.527},
{"t":2455333.6295,"Obj1":0.508,"Ref1":0,"Chk1":1.494,"Chk2":3.438,"Chk3":3.512},
{"t":2455333.6303,"Obj1":0.514,"Ref1":0,"Chk1":1.513,"Chk2":3.419,"Chk3":3.534},
{"t":2455333.6311,"Obj1":0.507,"Ref1":0,"Chk1":1.500,"Chk2":3.431,"Chk3":3.519},
{"t":2455333.6319,"Obj1":0.511,"Ref1":0,"Chk1":1.492,"Chk2":3.415,"Chk3":3.508},
{"t":2455333.6327,"Obj1":0.503,"Ref1":0,"Chk1":1.508,"Chk2":3.428,"Chk3":3.530},
{"t":2455333.6335,"Obj1":0.507,"Ref1":0,"Chk1":1.515,"Chk2":3.412,"Chk3":3.516},
{"t":2455333.6343,"Obj1":0.501,"Ref1":0,"Chk1":1.498,"Chk2":3.436,"Chk3":3.503},
{"t":2455333.6351,"Obj1":0.507,"Ref1":0,"Chk1":1.504,"Chk2":3.421,"Chk3":3.525},
{"t":2455333.6359,"Obj1":0.501,"Ref1":0,"Chk1":1.478,"Chk2":3.405,"Chk3":3.512},
{"t":2455333.6367,"Obj1":0.503,"Ref1":0,"Chk1":1.509,"Chk2":3.427,"Chk3":3.531},
{"t":2455333.6375,"Obj1":0.495,"Ref1":0,"Chk1":1.496,"Chk2":3.418,"Chk3":3.509},
{"t":2455333.6383,"Obj1":0.500,"Ref1":0,"Chk1":1.505,"Chk2":3.432,"Chk3":3.520},
{"t":2455333.6391,"Obj1":0.494,"Ref1":0,"Chk1":1.491,"Chk2":3.420,"Chk3":3.514},
{"t":2455333.6399,"Obj1":0.498,"Ref1":0,"Chk1":1.503,"Chk2":3.414,"Chk3":3.505},
{"t":2455333.6407,"Obj1":0.492,"Ref1":0,"Chk1":1.498,"Chk2":3.452,"Chk3":3.484}
]},
"transform": [{"fold": ["Obj1", "Ref1", "Chk1", "Chk2", "Chk3"], "as": ["series", "mag"]}],
"mark": {"type": "point", "filled": true, "opacity": 1, "size": 46},
"encoding": {
"x": {"field": "t", "type": "quantitative",
"scale": {"domain": [2455333.34, 2455333.65], "nice": false, "zero": false},
"axis": {"values": [2455333.34, 2455333.39, 2455333.44, 2455333.49, 2455333.54, 2455333.59, 2455333.64], "format": ".2f", "domain": false, "grid": false, "tickSize": 8, "tickColor": "#a6a6a6", "labelFont": "Liberation Sans", "labelFontSize": 20, "labelColor": "#1a1a1a", "labelPadding": 6, "labelFlush": false, "labelOverlap": false, "title": "Julian Date", "titleFont": "Lato", "titleFontWeight": "bold", "titleFontSize": 42, "titleColor": "black", "titleX": 549, "titleY": 88, "titleBaseline": "alphabetic"}},
"y": {"field": "mag", "type": "quantitative",
"scale": {"domain": [0.461, 0.7144, 1.4602, 1.5246, 3.3617, 3.5823], "range": [0, 299, 299, 375, 375, 686], "clamp": true, "nice": false, "zero": false},
"axis": {"values": [0.5, 0.7, 1.5, 3.4, 3.5], "format": ".1f", "domain": false, "grid": false, "offset": 6, "tickSize": 6, "tickWidth": 2, "tickColor": "black", "tickOpacity": {"condition": {"test": "datum.value > 3", "value": 0}, "value": 1}, "labelFont": "DejaVu Sans", "labelFontWeight": "bold", "labelFontSize": 17, "labelColor": "black", "labelPadding": 14, "labelOffset": -3, "title": "Relative V magnitude", "titleFont": "Open Sans", "titleFontWeight": "bold", "titleFontSize": 38, "titleColor": "black", "titleX": -88, "titleBaseline": "middle"}},
"color": {"field": "series", "type": "nominal",
"scale": {"domain": ["Obj1", "Ref1", "Chk1", "Chk2", "Chk3"], "range": ["#0d4a8b", "#f0521f", "#f6c41b", "#5c9b2d", "#7b0e2c"]},
"legend": {"title": null, "orient": "none", "legendX": 1076, "legendY": 300, "labelFont": "Liberation Sans", "labelFontSize": 19, "labelColor": "#111111", "symbolSize": 110, "rowPadding": 14, "labelOffset": 6}},
"shape": {"field": "series", "type": "nominal",
"scale": {"domain": ["Obj1", "Ref1", "Chk1", "Chk2", "Chk3"], "range": ["square", "diamond", "triangle-down", "triangle-up", "triangle-right"]}}
}
},
{
"data": {"values": [{"jd": 2455333.3403, "brk": 1.4703}, {"jd": 2455333.3388, "brk": 3.3738}]},
"mark": {"type": "text", "text": "---", "font": "DejaVu Sans", "fontWeight": "bold", "fontSize": 27, "baseline": "middle", "align": "center", "color": "black"},
"encoding": {"x": {"field": "jd", "type": "quantitative"}, "y": {"field": "brk", "type": "quantitative"}}
}
]
}
